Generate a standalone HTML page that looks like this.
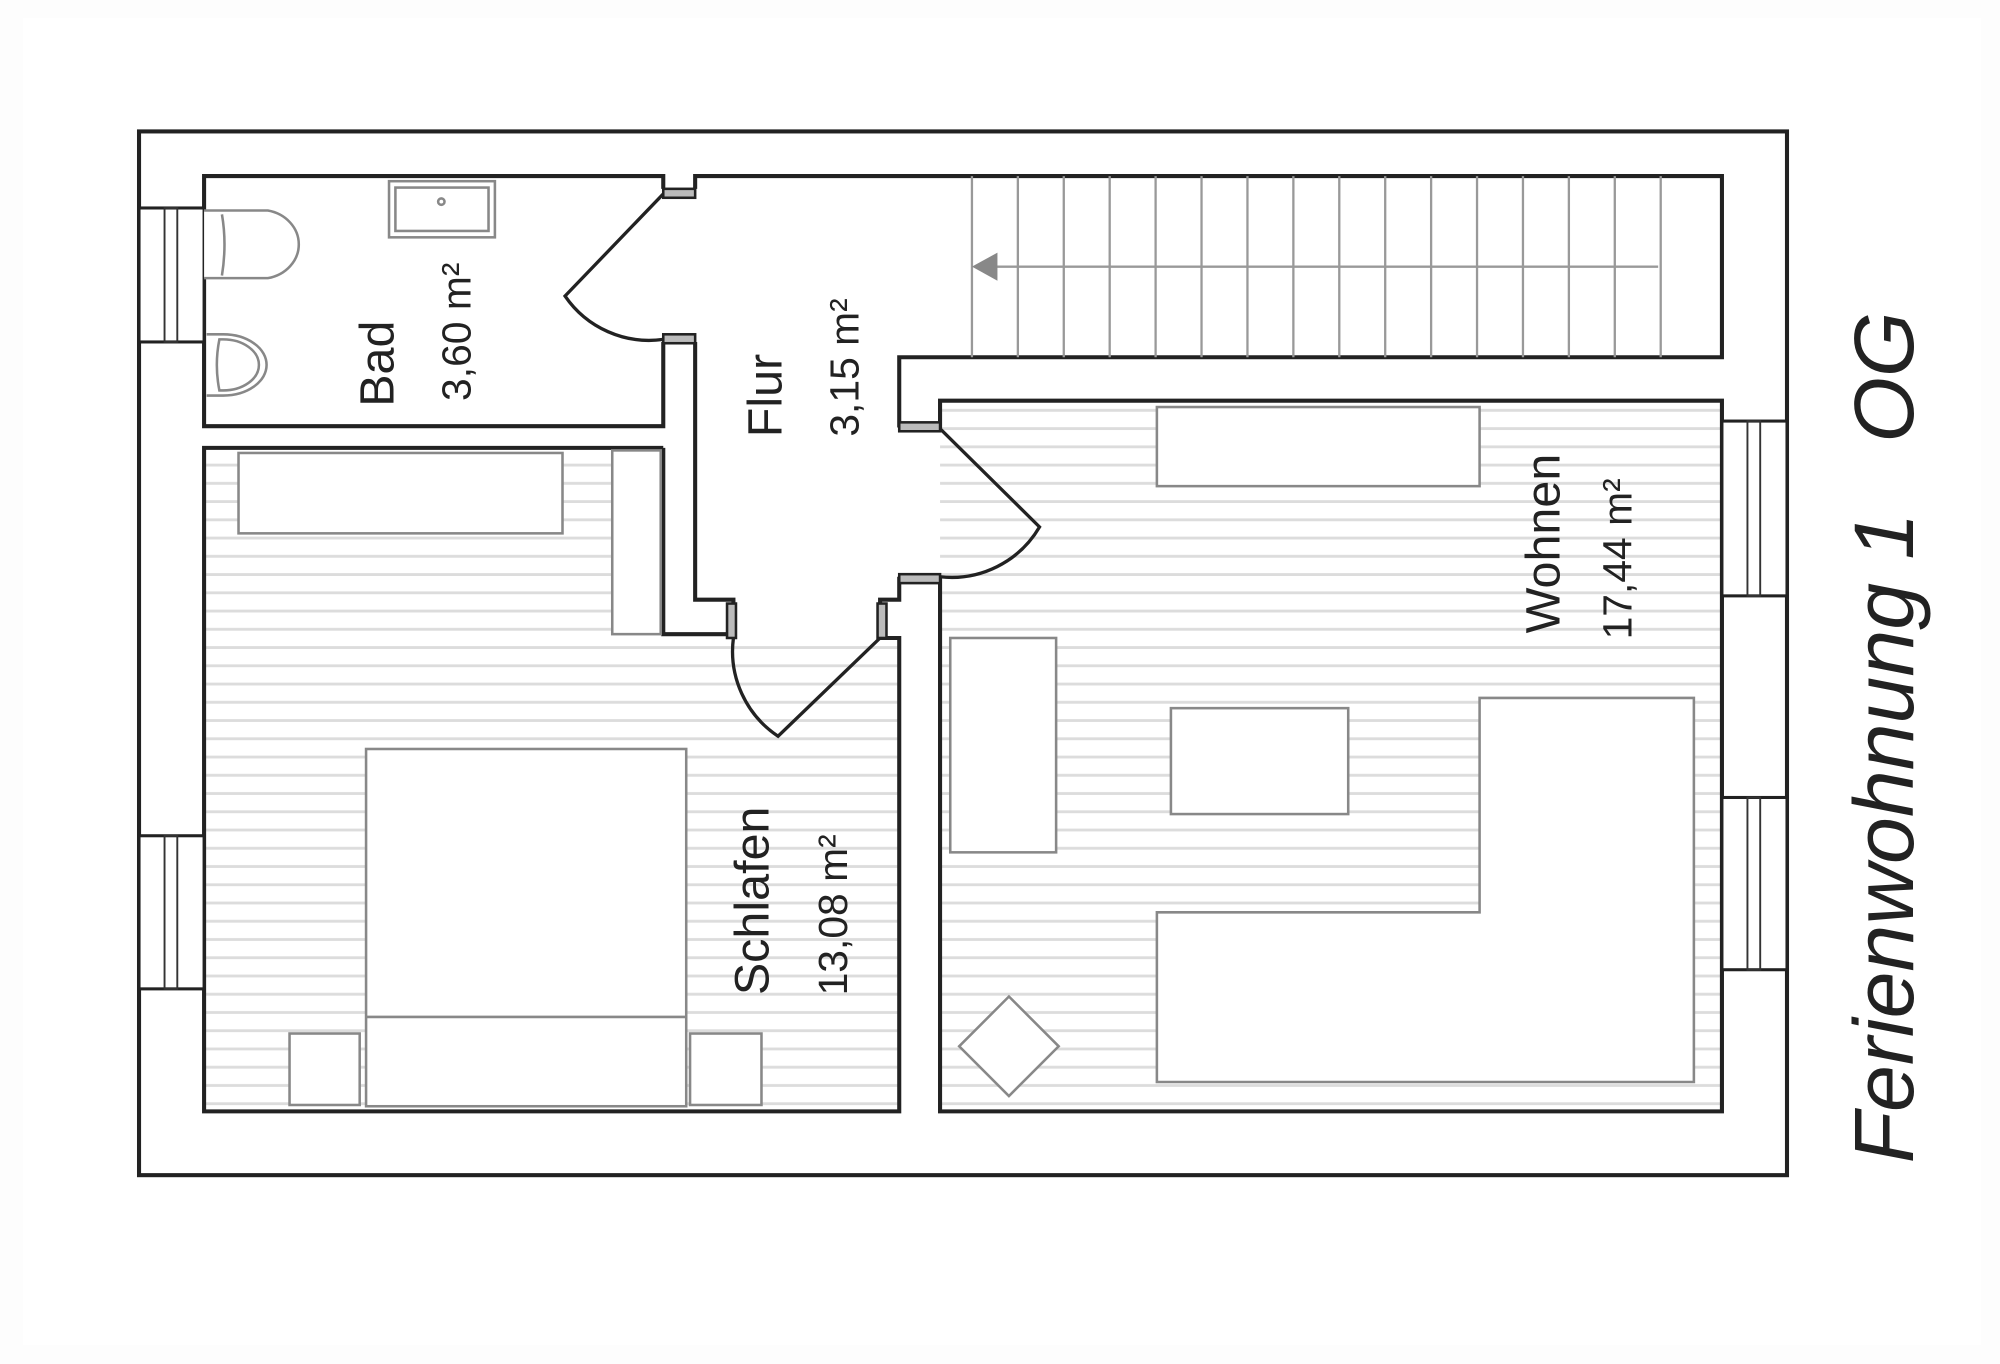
<!DOCTYPE html>
<html><head><meta charset="utf-8"><style>html,body{margin:0;padding:0;background:#fff}svg{display:block}</style></head>
<body>
<svg width="2000" height="1364" viewBox="0 0 1568 1069" preserveAspectRatio="none" xmlns="http://www.w3.org/2000/svg" font-family="Liberation Sans, sans-serif">
<defs>
<pattern id="h" width="20" height="14.3" patternUnits="userSpaceOnUse">
<rect width="20" height="14.3" fill="#fff"/>
<line x1="0" y1="7" x2="20" y2="7" stroke="#dcdcdc" stroke-width="2.2"/>
</pattern>
</defs>
<rect x="0" y="0" width="1568" height="1069" fill="#fdfdfd"/>
<rect x="18" y="14" width="1535" height="1040" fill="#fff"/>
<g stroke="#222" stroke-width="3.2" fill="none">
<rect x="109" y="103" width="1292" height="818" fill="#fff"/>
<polygon points="160,351 520,351 520,497 575,497 575,500 705,500 705,871 160,871" fill="url(#h)" stroke="none"/>
<rect x="737" y="314" width="613" height="557" fill="url(#h)" stroke="none"/>
<path d="M520,148 L520,138 L160,138 L160,334 L520,334 L520,268"/>
<path d="M545,148 L545,138 L1350,138 L1350,280 L705,280 L705,335"/>
<path d="M545,268 L545,470 L575,470 L575,500"/>
<path d="M520,351 L160,351 L160,871 L705,871 L705,500 L690,500"/>
<path d="M520,351 L520,497 L575,497"/>
<path d="M737,338 L737,314 L1350,314 L1350,871 L737,871 L737,452"/>
<path d="M705,452 L705,470 L690,470 L690,500"/>
</g>
<g stroke="#222" stroke-width="2" fill="#bbb">
<rect x="520" y="148" width="25" height="7"/>
<rect x="520" y="262" width="25" height="7"/>
<rect x="705" y="331" width="32" height="7"/>
<rect x="705" y="450" width="32" height="7"/>
<rect x="570" y="473" width="7" height="27"/>
<rect x="688" y="473" width="7" height="27"/>
</g>
<g stroke="#222" stroke-width="2.6" fill="none">
<path d="M520,152 L443,232 A80,80 0 0 0 520,266"/>
<path d="M737,336 L815,413 A80,80 0 0 1 737,452"/>
<path d="M690,500 L610,577 A80,80 0 0 1 575,500"/>
</g>
<g stroke="#222" stroke-width="2.4" fill="#fff">
<rect x="109" y="163" width="51" height="105"/>
<rect x="109" y="655" width="51" height="120"/>
<rect x="1350" y="330" width="51" height="137"/>
<rect x="1350" y="625" width="51" height="135"/>
</g>
<g stroke="#333" stroke-width="1.5" fill="none">
<rect x="129" y="163" width="10" height="105"/>
<rect x="129" y="655" width="10" height="120"/>
<rect x="1370" y="330" width="10" height="137"/>
<rect x="1370" y="625" width="10" height="135"/>
</g>
<g stroke="#999" stroke-width="1.8" fill="none">
<path d="M762,138V280 M798,138V280 M834,138V280 M870,138V280 M906,138V280 M942,138V280 M978,138V280 M1014,138V280 M1050,138V280 M1086,138V280 M1122,138V280 M1158,138V280 M1194,138V280 M1230,138V280 M1266,138V280 M1302,138V280"/>
<line x1="775" y1="209" x2="1300" y2="209"/>
</g>
<polygon points="762,209 782,198 782,220" fill="#888"/>
<g stroke="#888" stroke-width="2" fill="#fff">
<rect x="187" y="355" width="254" height="63"/>
<rect x="480" y="353" width="38" height="144"/>
<rect x="287" y="587" width="251" height="280"/>
<line x1="287" y1="797" x2="538" y2="797"/>
<rect x="227" y="810" width="55" height="56"/>
<rect x="541" y="810" width="56" height="56"/>
<rect x="907" y="319" width="253" height="62"/>
<rect x="745" y="500" width="83" height="168"/>
<rect x="918" y="555" width="139" height="83"/>
<polygon points="1160,547 1328,547 1328,848 907,848 907,715 1160,715"/>
<polygon points="791,781 830,820 791,859 752,820"/>
<rect x="305" y="142" width="83" height="44"/>
<rect x="310" y="147" width="73" height="34"/>
<circle cx="346" cy="158" r="2.5"/>
<path d="M160,165 L210,165 A30,27 0 0 1 210,218 L160,218"/>
<path d="M174,168 Q178,191 174,216"/>
<path d="M162,262 L175,262 A34,24 0 0 1 175,310 L162,310"/>
<path d="M172,266 Q168,286 172,306 L175,306 A28,20 0 0 0 175,266Z"/>
</g>
<g fill="#222" text-anchor="middle" dominant-baseline="central">
<text transform="translate(296,285) rotate(-90)" font-size="38">Bad</text>
<text transform="translate(358,260) rotate(-90)" font-size="32">3,60 m²</text>
<text transform="translate(600,310) rotate(-90)" font-size="38">Flur</text>
<text transform="translate(662,288) rotate(-90)" font-size="32">3,15 m²</text>
<text transform="translate(590,706) rotate(-90)" font-size="38">Schlafen</text>
<text transform="translate(653,717) rotate(-90)" font-size="32">13,08 m²</text>
<text transform="translate(1210,426) rotate(-90)" font-size="38">Wohnen</text>
<text transform="translate(1268,438) rotate(-90)" font-size="32">17,44 m²</text>
<text transform="translate(1477,578) rotate(-90)" font-size="66" font-style="italic" xml:space="preserve">Ferienwohnung 1   OG</text>
</g>
</svg>
</body></html>
